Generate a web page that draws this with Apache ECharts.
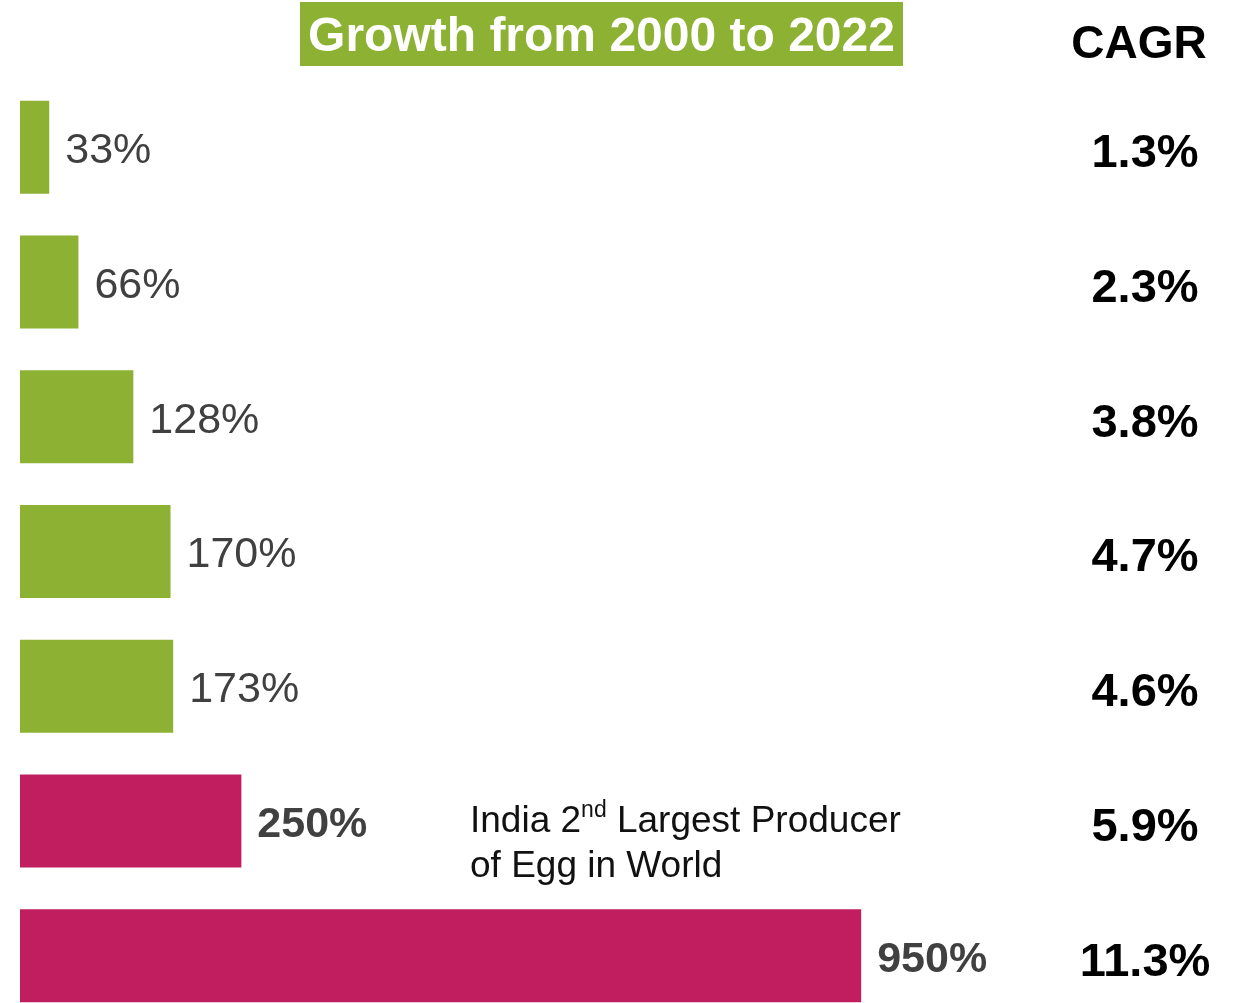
<!DOCTYPE html>
<html>
<head>
<meta charset="utf-8">
<script src="https://cdn.jsdelivr.net/npm/echarts@6/dist/echarts.min.js"></script>
<style>html,body{margin:0;padding:0;background:#fff;}#c{width:1238px;height:1003px;}</style>
</head>
<body>
<div id="c"></div>
<script>
var categories = ['A', 'B', 'C', 'D', 'E', 'F', 'G'];
var growth = [33, 66, 128, 170, 173, 250, 950];
var growthLabels = ['33%', '66%', '128%', '170%', '173%', '250%', '950%'];
var cagr = ['1.3%', '2.3%', '3.8%', '4.7%', '4.6%', '5.9%', '11.3%'];
var highlighted = [false, false, false, false, false, true, true];

var GREEN = '#8DB133';
var MAGENTA = '#C01E5E';
var FONT = '"Liberation Sans", Arial, sans-serif';

var chart = echarts.init(document.getElementById('c'), null, {renderer: 'canvas'});

var barData = growth.map(function (v, i) {
  var hi = highlighted[i];
  return {
    value: v,
    itemStyle: {color: hi ? MAGENTA : GREEN},
    label: {fontWeight: hi ? 'bold' : 'normal'}
  };
});

chart.setOption({
  animation: false,
  backgroundColor: '#ffffff',
  grid: {left: 20, top: 80, width: 974, height: 943, containLabel: false, outerBoundsMode: 'none'},
  xAxis: {type: 'value', min: 0, max: 1100, show: false, splitLine: {show: false}},
  yAxis: [
    {type: 'category', data: categories, inverse: true, show: false},
    {
      type: 'category', data: cagr, inverse: true, position: 'right',
      axisLine: {show: false}, axisTick: {show: false}, splitLine: {show: false},
      axisLabel: {
        show: true, margin: 151, align: 'center', verticalAlign: 'top', lineHeight: 14,
        fontFamily: FONT, fontSize: 47, fontWeight: 'bold', color: '#000000'
      }
    }
  ],
  series: [{
    type: 'bar',
    yAxisIndex: 0,
    data: barData,
    barWidth: 93,
    label: {
      show: true, position: 'right', distance: 16, offset: [0, 4],
      fontFamily: FONT, fontSize: 43, color: '#404040',
      formatter: function (p) { return growthLabels[p.dataIndex]; }
    }
  }],
  graphic: [
    {type: 'rect', shape: {x: 300, y: 2, width: 603, height: 64}, style: {fill: GREEN}},
    {type: 'text', style: {x: 601.5, y: 38, text: 'Growth from 2000 to 2022', fill: '#ffffff',
      font: 'bold 48px ' + FONT, textAlign: 'center', textVerticalAlign: 'middle'}},
    {type: 'text', style: {x: 1139, y: 45, text: 'CAGR', fill: '#000000',
      font: 'bold 46px ' + FONT, textAlign: 'center', textVerticalAlign: 'middle'}},
    {type: 'text', style: {x: 470, y: 799, textVerticalAlign: 'top', textAlign: 'left',
      text: '{a|India 2}{s|nd}{a| Largest Producer}\n{a|of Egg in World}',
      rich: {
        a: {fontFamily: FONT, fontSize: 37, lineHeight: 45, fill: '#111111', color: '#111111'},
        s: {fontFamily: FONT, fontSize: 23, lineHeight: 35, verticalAlign: 'top', fill: '#111111', color: '#111111'}
      }}}
  ]
});
</script>
</body>
</html>
